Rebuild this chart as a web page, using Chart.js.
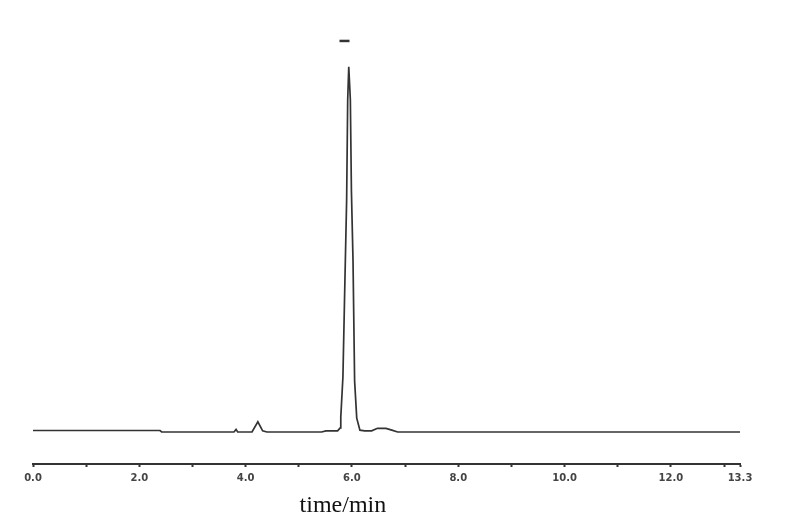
<!DOCTYPE html>
<html lang="en">
<head>
    <meta charset="UTF-8">
    <title>Chromatogram</title>
    <script src="https://cdn.jsdelivr.net/npm/chart.js"></script>
    <style>
        html, body { margin: 0; padding: 0; background: #fff; }
        #wrap { width: 800px; height: 529px; }
    </style>
</head>
<body>
    <div id="wrap"><canvas id="chrom"></canvas></div>
    <script>
        // retention time (min) and detector signal (relative, main peak = 100)
        let times = [0.0, 2.39, 2.42, 3.78, 3.82, 3.85, 4.12, 4.23, 4.32, 4.40, 5.43, 5.51, 5.73, 5.78, 5.79,
                     5.83, 5.86, 5.90, 5.92, 5.94, 5.97, 5.99, 6.02, 6.05, 6.09, 6.15, 6.24, 6.37, 6.48, 6.64,
                     6.75, 6.86, 13.3];
        let signal = [0.4, 0.4, 0.0, 0.0, 0.7, 0.0, 0.0, 2.8, 0.3, 0.0, 0.0, 0.3, 0.3, 1.1, 4.1,
                      15, 36, 63.5, 91, 100, 91, 66, 47, 14, 3.8, 0.5, 0.3, 0.3, 1.0, 1.0,
                      0.5, 0.0, 0.0];
        let peakMarkTime = [5.86];
        let peakMarkValue = [107.1];
        let majorTicks = [0, 2, 4, 6, 8, 10, 12, 13.3];
        let minorTicks = [1, 3, 5, 7, 9, 11, 13];
        let xTitle = "time/min";

        let trace = times.map((t, i) => ({ x: t, y: signal[i] }));
        let mark = peakMarkTime.map((t, i) => ({ x: t, y: peakMarkValue[i] }));

        // axis title sits under the main peak, not the axis centre
        let titlePlugin = {
            id: "xTitle",
            afterDraw(chart) {
                let ctx = chart.ctx;
                let xs = chart.scales.x;
                ctx.save();
                ctx.font = "24px 'Liberation Serif', 'Times New Roman', serif";
                ctx.fillStyle = "#111";
                ctx.textAlign = "center";
                ctx.textBaseline = "middle";
                ctx.fillText(xTitle, xs.getPixelForValue(5.83), chart.chartArea.bottom + 42);
                ctx.restore();
            }
        };

        let ctx = document.getElementById("chrom").getContext("2d");
        new Chart(ctx, {
            type: "scatter",
            data: {
                datasets: [{
                    data: trace,
                    showLine: true,
                    borderColor: "#333",
                    borderWidth: 1.7,
                    pointRadius: 0,
                    tension: 0
                }, {
                    data: mark,
                    pointStyle: "line",
                    pointRadius: 5,
                    borderWidth: 2.5,
                    borderColor: "#333",
                    backgroundColor: "#333"
                }]
            },
            options: {
                responsive: true,
                maintainAspectRatio: false,
                animation: false,
                layout: { padding: { top: 30, left: 33, right: 60, bottom: 40 } },
                plugins: { legend: { display: false }, tooltip: { enabled: false } },
                scales: {
                    x: {
                        type: "linear",
                        min: 0,
                        max: 13.3,
                        afterBuildTicks: (axis) => {
                            axis.ticks = majorTicks.concat(minorTicks).sort((a, b) => a - b).map(v => ({ value: v }));
                        },
                        ticks: {
                            autoSkip: false,
                            maxRotation: 0,
                            padding: 5,
                            color: "#444",
                            font: { family: "DejaVu Sans", size: 10, weight: "bold" },
                            callback: (v) => majorTicks.includes(v) ? v.toFixed(1) : ""
                        },
                        grid: { display: true, drawOnChartArea: false, drawTicks: true, tickLength: 3, tickWidth: 2, color: "#333" },
                        border: { display: true, color: "#333", width: 2 }
                    },
                    y: {
                        display: false,
                        min: -8.77,
                        max: 110.1
                    }
                }
            },
            plugins: [titlePlugin]
        });
    </script>
</body>
</html>
